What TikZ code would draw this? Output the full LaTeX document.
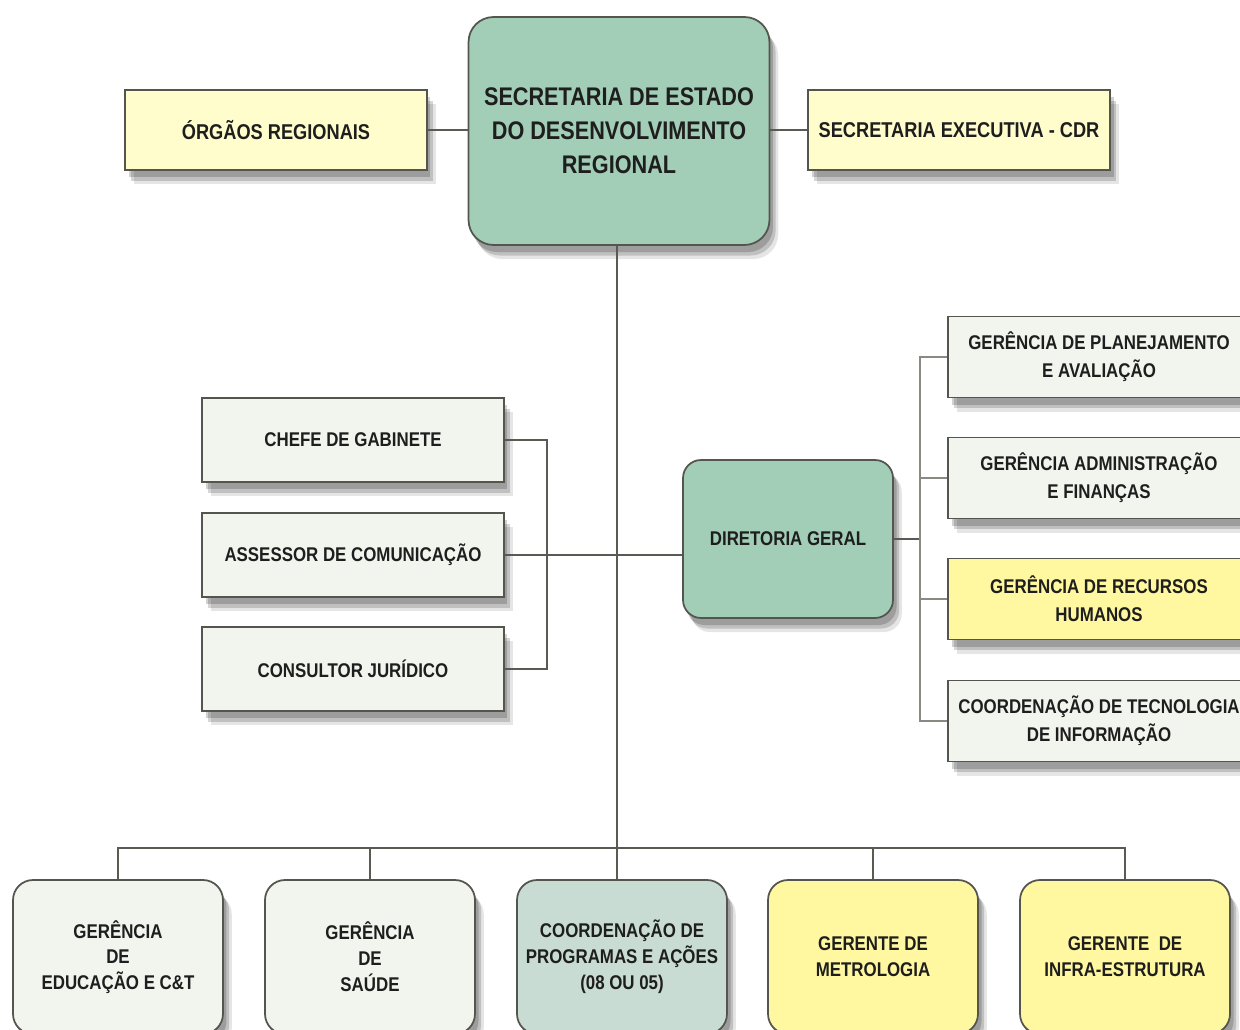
\documentclass[tikz,border=0pt]{standalone}
\usepackage{fontspec}
\setmainfont{Liberation Sans}[FakeStretch=0.85]
\usetikzlibrary{shadows,positioning}
\definecolor{verde}{HTML}{A2CDB6}
\definecolor{verdecinza}{HTML}{C9DCD3}
\definecolor{creme}{HTML}{FFFDCC}
\definecolor{amarelo}{HTML}{FFF8A0}
\definecolor{branco}{HTML}{F2F4EE}
\definecolor{borda}{HTML}{55554F}
\definecolor{linha}{HTML}{5A5A55}
\definecolor{linhaclara}{HTML}{8A8A85}
\definecolor{texto}{HTML}{1E1E1E}

\begin{document}
\begin{tikzpicture}[x=0.02cm, y=-0.02cm,
    sombra/.style={drop shadow={shadow xshift=2pt,shadow yshift=-4pt,opacity=.18,fill=black},
                   drop shadow={shadow xshift=3.5pt,shadow yshift=-6pt,opacity=.16,fill=black},
                   drop shadow={shadow xshift=5pt,shadow yshift=-8pt,opacity=.1,fill=black}},
    caixa/.style={draw=borda, line width=1pt, sombra, align=center, text=texto,
                  font=\fontsize{11.3}{15.9}\selectfont\bfseries, inner sep=0pt},
    topo/.style={caixa, fill=verde, rounded corners=0.5cm, minimum width=6.02cm, minimum height=4.56cm,
                 font=\fontsize{14.5}{19.3}\selectfont\bfseries},
    lateral/.style={caixa, fill=creme, minimum width=6.04cm, minimum height=1.6cm,
                    font=\fontsize{12.2}{16}\selectfont\bfseries},
    assessoria/.style={caixa, fill=branco, minimum width=6.04cm, minimum height=1.68cm},
    gerencia/.style={caixa, fill=branco, minimum width=6.04cm, minimum height=1.62cm},
    diretoria/.style={caixa, fill=verde, rounded corners=0.36cm, minimum width=4.2cm, minimum height=3.16cm},
    base/.style={caixa, rounded corners=0.4cm, minimum width=4.2cm, minimum height=3.08cm,
                 font=\fontsize{11.3}{14.7}\selectfont\bfseries},
    liga/.style={draw=linha, line width=1pt},
    ligaclara/.style={draw=linhaclara, line width=1pt}]

    \clip (0,0) rectangle (1240,1030);
    \fill[white] (0,0) rectangle (1240,1030);

    % topo
    \node[topo] (sec) at (619,131) {SECRETARIA DE ESTADO\\DO DESENVOLVIMENTO\\REGIONAL};
    \node[lateral] (org) at (276,130) {ÓRGÃOS REGIONAIS};
    \node[lateral] (exe) at (959,130) {SECRETARIA EXECUTIVA - CDR};

    % assessorias
    \node[assessoria] (chefe) at (353,440) {CHEFE DE GABINETE};
    \node[assessoria] (assessor) at (353,555) {ASSESSOR DE COMUNICAÇÃO};
    \node[assessoria] (consultor) at (353,669) {CONSULTOR JURÍDICO};

    \node[diretoria] (dir) at (788,539) {DIRETORIA GERAL};

    % gerencias da diretoria
    \node[gerencia] (plan) at (1099,357) {GERÊNCIA DE PLANEJAMENTO\\E AVALIAÇÃO};
    \node[gerencia] (adm) at (1099,478) {GERÊNCIA ADMINISTRAÇÃO\\E FINANÇAS};
    \node[gerencia, fill=amarelo] (rh) at (1099,599) {GERÊNCIA DE RECURSOS\\HUMANOS};
    \node[gerencia] (ti) at (1099,721) {COORDENAÇÃO DE TECNOLOGIA\\DE INFORMAÇÃO};

    % base
    \node[base, fill=branco] (edu) at (118,957) {GERÊNCIA\\DE\\EDUCAÇÃO E C\&T};
    \node[base, fill=branco] (sau) at (370,957) {GERÊNCIA\\DE\\SAÚDE};
    \node[base, fill=verdecinza] (prog) at (622,957) {COORDENAÇÃO DE\\PROGRAMAS E AÇÕES\\(08 OU 05)};
    \node[base, fill=amarelo] (met) at (873,957) {GERENTE DE\\METROLOGIA};
    \node[base, fill=amarelo] (infra) at (1125,957) {GERENTE \ DE\\INFRA-ESTRUTURA};

    \coordinate (lb) at (547,555);
    \coordinate (rb) at (920,539);
    \coordinate (bus) at (617,848);

    \draw[liga] (org.east) -- (org.east -| sec.west);
    \draw[liga] (exe.west) -- (exe.west -| sec.east);
    \draw[liga] (sec.south -| bus) -- (prog.north -| bus);

    \draw[liga] (chefe.east) -| (lb) |- (consultor.east);
    \draw[liga] (assessor.east) -- (assessor.east -| dir.west);

    \draw[liga] (dir.east) -- (rb);
    \draw[ligaclara] (plan.west) -| (rb) |- (ti.west);
    \draw[ligaclara] (adm.west) -- (adm.west -| rb);
    \draw[ligaclara] (rh.west) -- (rh.west -| rb);

    \draw[liga] (edu.north) -- (edu.north |- bus) -- (infra.north |- bus) -- (infra.north);
    \foreach \g in {sau, met}
        \draw[liga] (\g.north) -- (\g.north |- bus);

\end{tikzpicture}
\end{document}
